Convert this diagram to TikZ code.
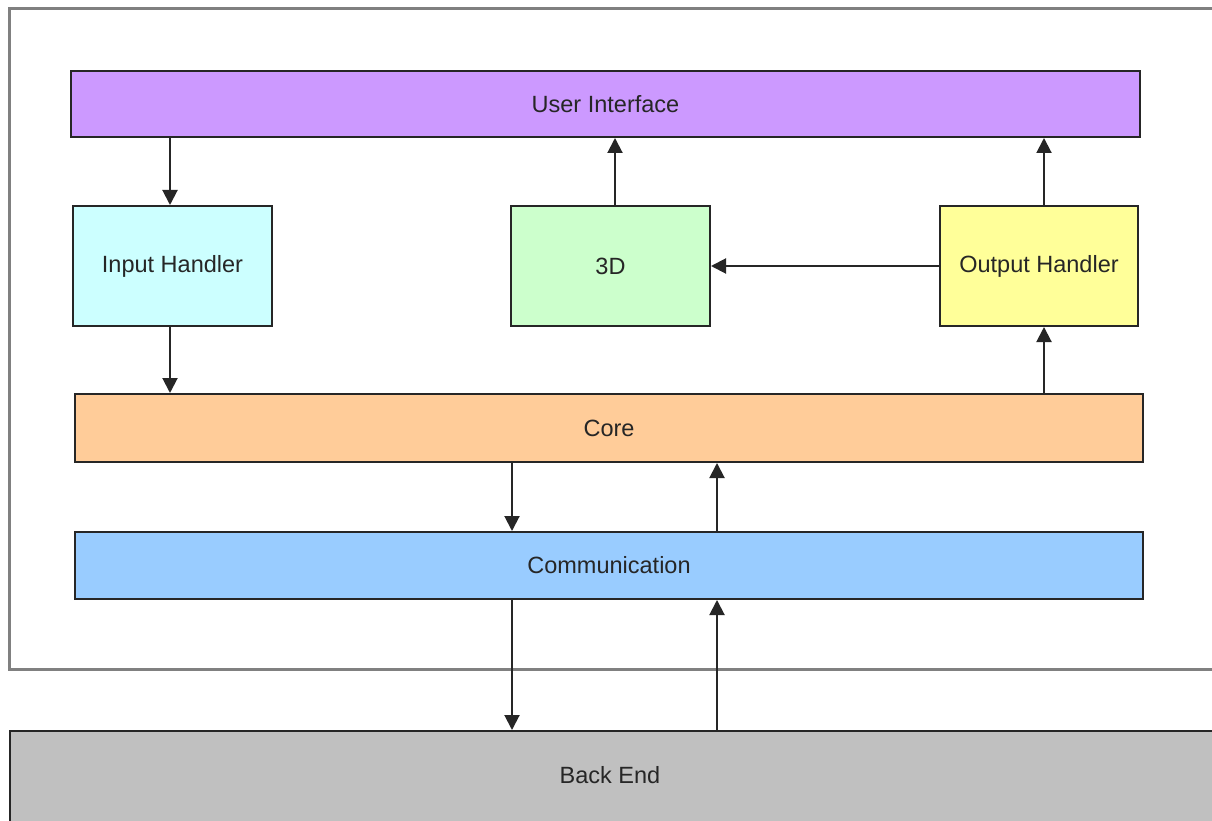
\documentclass[tikz,border=0pt]{standalone}
\usepackage{fontspec}
\setmainfont{Liberation Sans}
\usetikzlibrary{arrows.meta}
\definecolor{uicol}{HTML}{CC99FF}
\definecolor{incol}{HTML}{CCFFFF}
\definecolor{tdcol}{HTML}{CCFFCC}
\definecolor{outcol}{HTML}{FFFF99}
\definecolor{corecol}{HTML}{FFCC99}
\definecolor{comcol}{HTML}{99CCFF}
\definecolor{becol}{HTML}{C0C0C0}
\definecolor{edgecol}{HTML}{262626}
\definecolor{framecol}{HTML}{808080}
\definecolor{txtcol}{HTML}{262626}
\begin{document}
\begin{tikzpicture}[x=1pt,y=-1pt,
  block/.style={draw=edgecol, line width=2pt, inner sep=0pt, text=txtcol,
    font=\fontsize{23.5}{27}\selectfont},
  arr/.style={draw=edgecol, line width=2pt,
    -{Triangle[width=15pt,length=15pt]}}]
  \clip (0,0) rectangle (1212,821);
  \fill[white] (0,0) rectangle (1212,821);
  % enclosing frame of the client
  \draw[framecol, line width=3pt] (9,9) rectangle (1240,669);
  % back end strip
  \node[block, fill=becol, minimum width=1240pt, minimum height=140pt, anchor=north west]
    (be) at (9,730) {};
  \node[text=txtcol, font=\fontsize{23.5}{27}\selectfont] (belabel) at (610,775) {Back End};
  % layers and modules
  \node[block, fill=uicol, minimum width=1069pt, minimum height=66pt] (ui) at (605.5,104) {User Interface};
  \node[block, fill=incol, minimum width=199pt, minimum height=120pt] (inh) at (172.5,266) {Input Handler};
  \node[block, fill=tdcol, minimum width=199pt, minimum height=120pt] (td) at (610.5,266) {3D};
  \node[block, fill=outcol, minimum width=198pt, minimum height=120pt] (outh) at (1039,266) {Output Handler};
  \node[block, fill=corecol, minimum width=1068pt, minimum height=68pt] (core) at (609,428) {Core};
  \node[block, fill=comcol, minimum width=1068pt, minimum height=67pt] (com) at (609,565.5) {Communication};
  % columns of the connectors
  \coordinate (xin) at (170,0);
  \coordinate (xtd) at (615,0);
  \coordinate (xout) at (1044,0);
  \coordinate (xdown) at (512,0);
  \coordinate (xup) at (717,0);
  % connectors
  \draw[arr] (ui.south -| xin) -- (inh.north -| xin);
  \draw[arr] (inh.south -| xin) -- (core.north -| xin);
  \draw[arr] (td.north -| xtd) -- (ui.south -| xtd);
  \draw[arr] (outh.north -| xout) -- (ui.south -| xout);
  \draw[arr] (core.north -| xout) -- (outh.south -| xout);
  \draw[arr] (outh.west) -- (td.east);
  \draw[arr] (core.south -| xdown) -- (com.north -| xdown);
  \draw[arr] (com.north -| xup) -- (core.south -| xup);
  \draw[arr] (com.south -| xdown) -- (be.north -| xdown);
  \draw[arr] (be.north -| xup) -- (com.south -| xup);
\end{tikzpicture}
\end{document}
